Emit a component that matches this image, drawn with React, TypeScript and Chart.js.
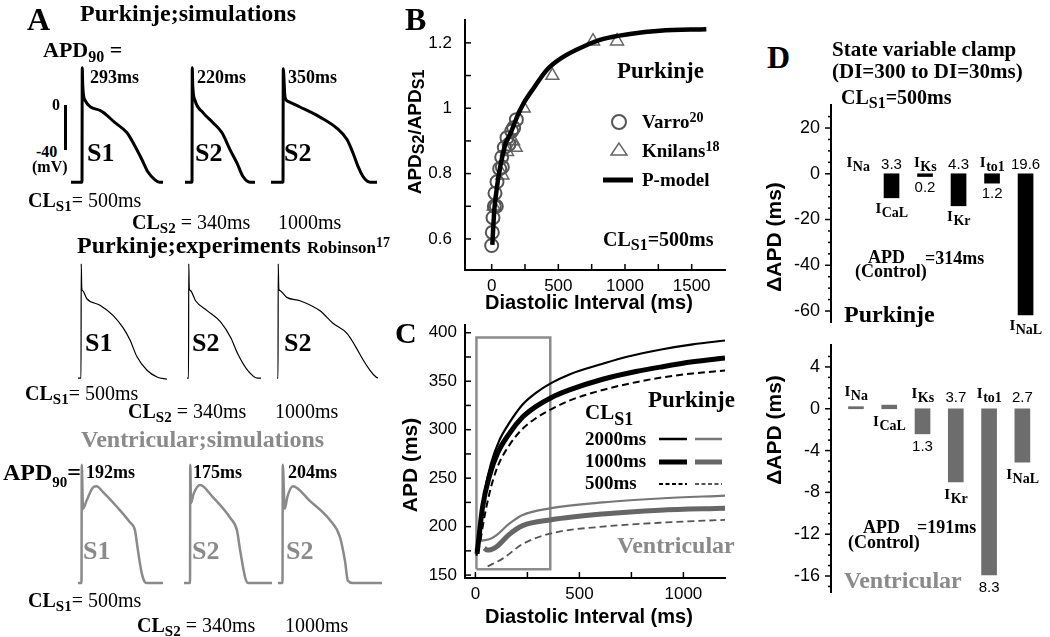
import React, { useEffect, useRef } from "react";
import { Chart, registerables } from "chart.js";

Chart.register(...registerables);

const SERIF = "'Liberation Serif', 'Times New Roman', serif";
const SANS = "'Liberation Sans', Arial, Helvetica, sans-serif";
const GREY = "#8a8a8a";

/* ================= Panel A : action potentials [time ms from upstroke, mV] ================= */
const purkSimS1 = [[-44, -68], [0, -68], [1, 34], [3, 18], [12, 5], [72, -4], [132, -15], [180, -24], [212, -36], [240, -48], [264, -59], [292, -66], [310, -68], [324, -68]];
const purkSimS2a = [[-28, -68], [0, -68], [1, 34], [3, 18], [12, 5], [44, -6], [84, -15], [120, -24], [152, -39], [180, -51], [204, -63], [232, -68], [252, -68]];
const purkSimS2b = [[-48, -68], [0, -68], [1, 33], [8, 8], [20, 4], [68, -1], [148, -10], [216, -20], [256, -30], [280, -42], [300, -54], [320, -63], [336, -67], [350, -68], [376, -68]];
const purkExpS1 = [[-12, -68], [0, -68], [1, 34], [3, 12], [7, 10], [23, 3], [76, -3], [128, -12], [168, -23], [196, -34], [224, -49], [264, -61], [304, -67], [344, -69]];
const purkExpS2a = [[-6, -68], [0, -68], [1, 34], [3, 12], [8, 10], [28, 1], [75, -8], [128, -18], [168, -32], [195, -46], [235, -61], [275, -68], [288, -68]];
const purkExpS2b = [[-4, -68], [0, -68], [1, 34], [3, 12], [8, 10], [35, 4], [88, 1], [168, -8], [220, -19], [276, -28], [308, -39], [336, -50], [368, -61], [392, -67], [400, -68]];
const ventSimS1 = [[-14, -85], [0, -85], [1, 20], [6, -19], [20, -12], [46, 0], [60, 1], [85, -4], [140, -17], [193, -31], [213, -38], [225, -56], [240, -76], [252, -84], [260, -85], [325, -85]];
const ventSimS2a = [[-24, -85], [0, -85], [1, 20], [4, -14], [14, -6], [40, 2], [92, -9], [160, -27], [187, -38], [200, -56], [220, -80], [232, -85], [327, -85]];
const ventSimS2b = [[-18, -85], [0, -85], [1, 20], [9, -19], [20, -8], [41, 1], [109, -12], [189, -29], [229, -44], [249, -65], [261, -83], [281, -85], [397, -85]];

/* ================= Panel B : restitution ratio ================= */
const varroDI = [0, 5, 10, 20, 25, 35, 40, 60, 75, 80, 95, 115, 130, 150, 165, 185];
const varroRatio = [0.58, 0.62, 0.665, 0.7, 0.74, 0.7, 0.775, 0.815, 0.85, 0.82, 0.88, 0.91, 0.89, 0.93, 0.94, 0.965];
const knilansDI = [15, 80, 115, 160, 180, 240, 455, 760, 940];
const knilansRatio = [0.7, 0.795, 0.867, 0.9, 0.88, 1.0, 1.1, 1.205, 1.205];
const pModelDI = [5, 12, 22, 37, 55, 80, 105, 142, 192, 241, 316, 415, 540, 689, 838, 1037, 1261, 1610];
const pModelRatio = [0.582, 0.638, 0.699, 0.75, 0.8, 0.852, 0.893, 0.924, 0.975, 1.016, 1.062, 1.118, 1.158, 1.189, 1.212, 1.227, 1.237, 1.242];
const bTickX = [0, 500, 1000, 1500];
const bMarkX = [0, 250, 500, 750, 1000, 1250, 1500];
const bTickY = [0.6, 0.8, 1, 1.2];
const bMarkY = [0.6, 0.7, 0.8, 0.9, 1, 1.1, 1.2];

/* ================= Panel C : APD restitution ================= */
const p2000DI = [5, 19, 43, 75, 115, 163, 227, 291, 364, 452, 612, 724, 900, 1045, 1200];
const p2000APD = [170, 193, 234, 265, 289, 307, 326, 338, 348, 357, 368, 375, 383, 388, 392];
const p1000DI = [8, 35, 67, 107, 163, 227, 292, 364, 452, 612, 772, 900, 1045, 1200];
const p1000APD = [172, 221, 252, 276, 296, 313, 324, 333, 341, 352, 360, 365, 370, 374];
const p500DI = [25, 35, 67, 107, 163, 227, 292, 364, 452, 612, 772, 900, 1045, 1200];
const p500APD = [186, 200, 234, 262, 284, 301, 312, 321, 330, 341, 349, 354, 358, 361];
const v2000DI = [0, 19, 43, 67, 100, 163, 227, 364, 612, 885, 1200];
const v2000APD = [176, 184, 186, 187, 191, 203, 212, 219, 225, 229, 232];
const v1000DI = [43, 55, 67, 100, 163, 227, 364, 612, 885, 1200];
const v1000APD = [178, 176, 176, 179, 192, 201, 207, 213, 217, 219];
const v500DI = [59, 131, 227, 364, 612, 885, 1200];
const v500APD = [159, 167, 182, 193, 200, 204, 207];
const boxDI = [5, 360, 360, 5, 5];
const boxAPD = [156, 156, 395, 395, 156];
const cTickX = [0, 500, 1000];
const cMarkX = [0, 250, 500, 750, 1000];
const cTickY = [150, 200, 250, 300, 350, 400];
const cMarkY = [150, 175, 200, 225, 250, 275, 300, 325, 350, 375, 400];

/* ================= Panel D : state variable clamp ================= */
const currentNames = ["Na", "CaL", "Ks", "Kr", "to1", "NaL"];
const purkDeltaAPD = [null, -10.5, -1.2, -14, -4.1, -61.7];
const purkPercent = ["", "3.3", "0.2", "4.3", "1.2", "19.6"];
const purkNameSide = ["above", "below", "above", "below", "above", "below"];
const ventDeltaAPD = [0.2, 0.35, -2.4, -7, -15.9, -5.1];
const ventPercent = ["", "", "1.3", "3.7", "8.3", "2.7"];
const ventNameSide = ["above", "below", "above", "below", "above", "below"];
const dTopTicks = [20, 0, -20, -40, -60];
const dTopMinor = [25, 15, 10, 5, -5, -10, -15, -25, -30, -35, -45, -50, -55];
const dBotTicks = [4, 0, -4, -8, -12, -16];
const dBotMinor = [5, 3, 2, 1, -1, -2, -3, -5, -6, -7, -9, -10, -11, -13, -14, -15, -17];

/* ================= helpers ================= */
const KX = 0.25;
const KY = 1.125;
const PAD = 4;

const baseOpts = (padding: any) => ({
  responsive: false,
  animation: false,
  devicePixelRatio: 1,
  events: [],
  layout: { padding },
  plugins: { legend: { display: false }, tooltip: { enabled: false }, title: { display: false } },
});

function xy(xs: number[], ys: number[]) {
  return xs.map((x, i) => ({ x, y: ys[i] }));
}

function linAxis(min: number, max: number, ticks: number[], fit: number, horizontal: boolean, pad: number, size = 17) {
  return {
    type: "linear",
    min,
    max,
    grid: { display: false, drawTicks: false },
    border: { display: true, color: "#000", width: 2 },
    ticks: {
      font: { family: SANS, size },
      color: "#000",
      padding: pad,
      autoSkip: false,
      maxRotation: 0,
      callback: (v: any) => String(v),
    },
    afterBuildTicks: (s: any) => {
      s.ticks = ticks.map((v) => ({ value: v }));
    },
    afterFit: (s: any) => {
      if (horizontal) s.height = fit;
      else s.width = fit;
      s.paddingTop = 0;
      s.paddingBottom = 0;
      s.paddingLeft = 0;
      s.paddingRight = 0;
    },
  };
}

function tickMarks(specs: { axis: string; values: number[]; len: number; dir: number }[]) {
  return {
    id: "tickMarks",
    afterDraw(chart: any) {
      const { ctx, chartArea: a } = chart;
      ctx.save();
      ctx.strokeStyle = "#000";
      ctx.lineWidth = 1.5;
      specs.forEach((sp) => {
        const sc = chart.scales[sp.axis];
        sp.values.forEach((v) => {
          const p = sc.getPixelForValue(v);
          ctx.beginPath();
          if (sp.axis === "x") {
            ctx.moveTo(p, a.bottom);
            ctx.lineTo(p, a.bottom - sp.dir * sp.len);
          } else {
            ctx.moveTo(a.left, p);
            ctx.lineTo(a.left + sp.dir * sp.len, p);
          }
          ctx.stroke();
        });
      });
      ctx.restore();
    },
  };
}

function barLabels(names: string[], vals: string[], sides: string[], o: { nameAbove: number; valAbove: number; below: number }) {
  return {
    id: "barLabels",
    afterDatasetsDraw(chart: any) {
      const ctx = chart.ctx;
      const xs = chart.scales.x;
      const ys = chart.scales.y;
      const data = chart.data.datasets[0].data;
      const y0 = ys.getPixelForValue(0);
      ctx.save();
      ctx.fillStyle = "#000";
      ctx.textBaseline = "alphabetic";
      data.forEach((d: any, i: number) => {
        const xc = xs.getPixelForValue(d.x);
        const yv = ys.getPixelForValue(d.y == null ? 0 : d.y);
        const yTop = Math.min(y0, yv);
        const yBot = Math.max(y0, yv);
        const above = sides[i] === "above";
        ctx.textAlign = "left";
        ctx.font = `bold 15px ${SERIF}`;
        const wI = ctx.measureText("I").width;
        ctx.font = `bold 14px ${SERIF}`;
        const wS = ctx.measureText(names[i]).width;
        const sx = xc - (wI + wS) / 2;
        const nb = above ? yTop - o.nameAbove : yBot + o.below;
        ctx.font = `bold 15px ${SERIF}`;
        ctx.fillText("I", sx, nb);
        ctx.font = `bold 14px ${SERIF}`;
        ctx.fillText(names[i], sx + wI + 0.5, nb + 4);
        if (vals[i]) {
          ctx.font = `15px ${SANS}`;
          ctx.textAlign = "center";
          const vb = above ? yBot + o.below : yTop - o.valAbove;
          ctx.fillText(vals[i], xc, vb);
        }
      });
      ctx.restore();
    },
  };
}

function ChartCanvas({ box, make }: { box: { left: number; top: number; width: number; height: number }; make: () => any }) {
  const ref = useRef<HTMLCanvasElement | null>(null);
  useEffect(() => {
    if (!ref.current) return;
    const chart = new Chart(ref.current, make());
    return () => chart.destroy();
  }, []);
  return (
    <canvas
      ref={ref}
      width={box.width}
      height={box.height}
      style={{ position: "absolute", left: box.left, top: box.top, width: box.width, height: box.height }}
    />
  );
}

/* ---------- trace charts ---------- */
const traceRows = [
  { y0: 106, yMin: -75, yMax: 40, color: "#000", width: 3, traces: [purkSimS1, purkSimS2a, purkSimS2b], xs: [82, 192, 283] },
  { y0: 301.5, yMin: -75, yMax: 40, color: "#000", width: 1.2, traces: [purkExpS1, purkExpS2a, purkExpS2b], xs: [81, 188, 278] },
  { y0: 487, yMin: -92, yMax: 26, color: GREY, width: 2.5, traces: [ventSimS1, ventSimS2a, ventSimS2b], xs: [81.7, 190, 282.7] },
];

function traceBox(pts: number[][], x0: number, y0: number, yMin: number, yMax: number) {
  const tMin = pts[0][0];
  const tMax = pts[pts.length - 1][0];
  return {
    left: Math.round(x0 + tMin * KX) - PAD,
    top: Math.round(y0 - yMax * KY) - PAD,
    width: Math.round((tMax - tMin) * KX) + 2 * PAD,
    height: Math.round((yMax - yMin) * KY) + 2 * PAD,
  };
}

function traceConfig(pts: number[][], color: string, width: number, yMin: number, yMax: number) {
  return () => ({
    type: "line",
    data: {
      datasets: [
        {
          data: pts.map((p) => ({ x: p[0], y: p[1] })),
          borderColor: color,
          borderWidth: width,
          pointRadius: 0,
          cubicInterpolationMode: "monotone",
          fill: false,
          borderJoinStyle: "round",
        },
      ],
    },
    options: {
      ...baseOpts(PAD),
      scales: {
        x: { type: "linear", display: false, min: pts[0][0], max: pts[pts.length - 1][0] },
        y: { type: "linear", display: false, min: yMin, max: yMax },
      },
    },
  });
}

/* ---------- panel B ---------- */
const makeB = () => ({
  type: "scatter",
  data: {
    datasets: [
      {
        data: xy(pModelDI, pModelRatio),
        showLine: true,
        borderColor: "#000",
        borderWidth: 4.5,
        pointRadius: 0,
        cubicInterpolationMode: "monotone",
      },
      {
        data: xy(varroDI, varroRatio),
        pointStyle: "circle",
        pointRadius: 6.5,
        borderColor: "#555",
        borderWidth: 2,
        backgroundColor: "rgba(0,0,0,0)",
      },
      {
        data: xy(knilansDI, knilansRatio),
        pointStyle: "triangle",
        pointRadius: 7.5,
        borderColor: "#666",
        borderWidth: 1.5,
        backgroundColor: "rgba(0,0,0,0)",
      },
    ],
  },
  options: {
    ...baseOpts({ top: 10, right: 15, left: 0, bottom: 0 }),
    scales: {
      x: linAxis(-200, 1750, bTickX, 40, true, 6),
      y: linAxis(0.505, 1.27, bTickY, 65, false, 13),
    },
  },
  plugins: [
    tickMarks([
      { axis: "x", values: bMarkX, len: 6, dir: 1 },
      { axis: "y", values: bMarkY, len: 6, dir: 1 },
    ]),
  ],
});

/* ---------- panel C ---------- */
const cLine = (xs: number[], ys: number[], color: string, width: number, dash: number[] = []) => ({
  data: xy(xs, ys),
  borderColor: color,
  borderWidth: width,
  borderDash: dash,
  pointRadius: 0,
  cubicInterpolationMode: "monotone",
  fill: false,
});

const makeC = () => ({
  type: "line",
  data: {
    datasets: [
      cLine(p2000DI, p2000APD, "#000", 2.2),
      cLine(p1000DI, p1000APD, "#000", 5),
      cLine(p500DI, p500APD, "#000", 2, [7, 4]),
      cLine(v2000DI, v2000APD, "#777", 2.2),
      cLine(v1000DI, v1000APD, "#666", 5),
      cLine(v500DI, v500APD, "#555", 1.8, [7, 4]),
      { data: xy(boxDI, boxAPD), borderColor: "#8c8c8c", borderWidth: 2.5, pointRadius: 0, tension: 0, fill: false },
    ],
  },
  options: {
    ...baseOpts({ top: 10, right: 15, left: 0, bottom: 0 }),
    scales: {
      x: linAxis(-50, 1200, cTickX, 52, true, 6),
      y: linAxis(147, 408, cTickY, 65, false, 8),
    },
  },
  plugins: [
    tickMarks([
      { axis: "x", values: cMarkX, len: 6, dir: 1 },
      { axis: "y", values: cMarkY, len: 6, dir: 1 },
    ]),
  ],
});

/* ---------- panel D ---------- */
const makeD = (
  values: (number | null)[],
  pct: string[],
  sides: string[],
  color: string,
  yMin: number,
  yMax: number,
  ticks: number[],
  minor: number[],
  xMin: number,
  xMax: number,
  padBottom: number,
  off: { nameAbove: number; valAbove: number; below: number }
) => () => ({
  type: "bar",
  data: {
    datasets: [
      {
        data: values.map((v, i) => ({ x: i, y: v })),
        backgroundColor: color,
        borderWidth: 0,
        barThickness: 15,
      },
    ],
  },
  options: {
    ...baseOpts({ top: 10, right: 3, left: 0, bottom: padBottom }),
    scales: {
      x: { type: "linear", display: false, min: xMin, max: xMax, offset: false },
      y: linAxis(yMin, yMax, ticks, 51, false, 11, 18),
    },
  },
  plugins: [
    tickMarks([
      { axis: "y", values: ticks, len: 6, dir: -1 },
      { axis: "y", values: minor, len: 3, dir: -1 },
    ]),
    barLabels(currentNames, pct, sides, off),
  ],
});

/* ---------- text helpers ---------- */
type TP = { x: number; y: number; s?: number; w?: number; c?: string; f?: string; children?: any };
const T = ({ x, y, s = 18, w = 700, c = "#000", f = SERIF, children }: TP) => (
  <div
    style={{
      position: "absolute",
      left: x,
      top: y - Math.round(0.84 * s),
      fontFamily: f,
      fontSize: s,
      fontWeight: w,
      color: c,
      lineHeight: `${s}px`,
      whiteSpace: "nowrap",
    }}
  >
    {children}
  </div>
);
const Sb = ({ s, dy, w = 700, children }: { s: number; dy: number; w?: number; children?: any }) => (
  <span style={{ fontSize: s, fontWeight: w, position: "relative", top: dy }}>{children}</span>
);
const RT = ({ cx, cy, s, children }: { cx: number; cy: number; s: number; children?: any }) => (
  <div
    style={{
      position: "absolute",
      left: cx,
      top: cy,
      transform: "translate(-50%, -50%) rotate(-90deg)",
      fontFamily: SANS,
      fontWeight: 700,
      fontSize: s,
      lineHeight: `${s}px`,
      whiteSpace: "nowrap",
      color: "#000",
    }}
  >
    {children}
  </div>
);
const CL = ({ x, y, sub, rest, restW = 400, s = 20, ss = 15 }: { x: number; y: number; sub: string; rest: string; restW?: number; s?: number; ss?: number }) => (
  <T x={x} y={y} s={s}>
    CL<Sb s={ss} dy={4}>{sub}</Sb>
    <span style={{ fontWeight: restW }}>{rest}</span>
  </T>
);

export default function App() {
  const boxB = { left: 400, top: 10, width: 340, height: 300 };
  const boxC = { left: 400, top: 315, width: 340, height: 315 };
  const boxDT = { left: 780, top: 95, width: 268, height: 250 };
  const boxDB = { left: 780, top: 335, width: 268, height: 265 };
  const makeDTop = makeD(purkDeltaAPD, purkPercent, purkNameSide, "#000", -64.8, 30.07, dTopTicks, dTopMinor, -0.806, 5.58, 23, { nameAbove: 7, valAbove: 5, below: 15 });
  const makeDBot = makeD(ventDeltaAPD, ventPercent, ventNameSide, "#6d6d6d", -17.53, 6.1, dBotTicks, dBotMinor, -0.75, 5.68, 8, { nameAbove: 11, valAbove: 7, below: 17 });

  return (
    <div style={{ position: "absolute", left: 0, top: 0, width: 1050, height: 637, overflow: "hidden", background: "#fff" }}>
      {/* ---------------- Panel A ---------------- */}
      {traceRows.map((row, ri) =>
        row.traces.map((pts, ti) => (
          <ChartCanvas
            key={`tr-${ri}-${ti}`}
            box={traceBox(pts, row.xs[ti], row.y0, row.yMin, row.yMax)}
            make={traceConfig(pts, row.color, row.width, row.yMin, row.yMax)}
          />
        ))
      )}
      <div style={{ position: "absolute", left: 64, top: 105, width: 3, height: 45, background: "#000" }} />
      <T x={27} y={30} s={32}>A</T>
      <T x={80} y={21} s={24}>Purkinje;simulations</T>
      <T x={43} y={57} s={22}>
        APD<Sb s={16} dy={5}>90</Sb> =
      </T>
      <T x={90} y={83} s={18}>293ms</T>
      <T x={197} y={83} s={18}>220ms</T>
      <T x={288} y={83} s={18}>350ms</T>
      <T x={52} y={110} s={16}>0</T>
      <T x={36} y={157} s={16}>-40</T>
      <T x={32} y={172} s={16}>(mV)</T>
      <T x={87} y={162} s={26}>S1</T>
      <T x={195} y={162} s={26}>S2</T>
      <T x={284} y={162} s={26}>S2</T>
      <CL x={28} y={207} sub="S1" rest="= 500ms" />
      <CL x={132} y={229} sub="S2" rest=" = 340ms" />
      <T x={278} y={229} s={20} w={400}>1000ms</T>

      <T x={77} y={253} s={24}>Purkinje;experiments</T>
      <T x={307} y={253} s={17}>
        Robinson<Sb s={14} dy={-6}>17</Sb>
      </T>
      <T x={85} y={352} s={26}>S1</T>
      <T x={192} y={352} s={26}>S2</T>
      <T x={284} y={352} s={26}>S2</T>
      <CL x={25} y={400} sub="S1" rest="= 500ms" />
      <CL x={128} y={418} sub="S2" rest=" = 340ms" />
      <T x={275} y={418} s={20} w={400}>1000ms</T>

      <T x={81} y={447} s={24} c={GREY}>Ventricular;simulations</T>
      <T x={3} y={480} s={24}>
        APD<Sb s={15} dy={7}>90</Sb>=
      </T>
      <T x={86} y={478} s={18}>192ms</T>
      <T x={193} y={478} s={18}>175ms</T>
      <T x={288} y={478} s={18}>204ms</T>
      <T x={83} y={560} s={26} c={GREY}>S1</T>
      <T x={192} y={560} s={26} c={GREY}>S2</T>
      <T x={286} y={560} s={26} c={GREY}>S2</T>
      <CL x={28} y={607} sub="S1" rest="= 500ms" />
      <CL x={137} y={632} sub="S2" rest=" = 340ms" />
      <T x={285} y={632} s={20} w={400}>1000ms</T>

      {/* ---------------- Panel B ---------------- */}
      <ChartCanvas box={boxB} make={makeB} />
      <T x={405} y={30} s={32}>B</T>
      <RT cx={415} cy={132} s={19}>
        APD<Sb s={16} dy={3}>S2</Sb>/APD<Sb s={16} dy={3}>S1</Sb>
      </RT>
      <T x={485} y={309} s={20} f={SANS}>Diastolic Interval (ms)</T>
      <T x={617} y={78} s={23}>Purkinje</T>
      <T x={642} y={128} s={19}>
        Varro<Sb s={14} dy={-6}>20</Sb>
      </T>
      <T x={642} y={157} s={19}>
        Knilans<Sb s={14} dy={-6}>18</Sb>
      </T>
      <T x={642} y={186} s={19}>P-model</T>
      <CL x={603} y={246} sub="S1" rest="=500ms" restW={700} s={20} ss={16} />

      {/* ---------------- Panel C ---------------- */}
      <ChartCanvas box={boxC} make={makeC} />
      <T x={395} y={343} s={30}>C</T>
      <RT cx={409} cy={465} s={21}>APD (ms)</RT>
      <T x={485} y={623} s={20} f={SANS}>Diastolic Interval (ms)</T>
      <T x={648} y={407} s={23}>Purkinje</T>
      <T x={585} y={420} s={21}>
        CL<Sb s={18} dy={6}>S1</Sb>
      </T>
      <T x={585} y={445} s={19}>2000ms</T>
      <T x={585} y={467} s={19}>1000ms</T>
      <T x={585} y={489} s={19}>500ms</T>
      <T x={617} y={553} s={24} c={GREY}>Ventricular</T>

      {/* ---------------- Panel D ---------------- */}
      <ChartCanvas box={boxDB} make={makeDBot} />
      <ChartCanvas box={boxDT} make={makeDTop} />
      <T x={767} y={68} s={32}>D</T>
      <T x={832} y={57} s={21}>State variable clamp</T>
      <T x={832} y={79} s={21}>(DI=300 to DI=30ms)</T>
      <CL x={841} y={104} sub="S1" rest="=500ms" restW={700} s={20} ss={16} />
      <RT cx={773} cy={237} s={21}>ΔAPD (ms)</RT>
      <RT cx={773} cy={430} s={21}>ΔAPD (ms)</RT>
      <T x={868} y={263} s={18}>APD</T>
      <T x={855} y={277} s={18}>(Control)</T>
      <T x={925} y={264} s={18}>=314ms</T>
      <T x={844} y={322} s={24}>Purkinje</T>
      <T x={863} y={533} s={18}>APD</T>
      <T x={848} y={548} s={18}>(Control)</T>
      <T x={917} y={533} s={18}>=191ms</T>
      <T x={844} y={588} s={24} c={GREY}>Ventricular</T>

      {/* legend marks (B and C) */}
      <svg width={1050} height={637} style={{ position: "absolute", left: 0, top: 0, pointerEvents: "none" }}>
        <circle cx={619} cy={122} r={7} fill="none" stroke="#555" strokeWidth={2} />
        <polygon points="619,143 611,155 627,155" fill="none" stroke="#666" strokeWidth={1.5} />
        <line x1={603} y1={180} x2={633} y2={180} stroke="#000" strokeWidth={5} />
        <line x1={659} y1={439} x2={687} y2={439} stroke="#000" strokeWidth={2.5} />
        <line x1={695} y1={439} x2={722} y2={439} stroke="#777" strokeWidth={2.5} />
        <line x1={659} y1={462} x2={687} y2={462} stroke="#000" strokeWidth={5} />
        <line x1={695} y1={462} x2={722} y2={462} stroke="#666" strokeWidth={5} />
        <line x1={659} y1={484} x2={687} y2={484} stroke="#000" strokeWidth={2} strokeDasharray="4 2.5" />
        <line x1={695} y1={484} x2={722} y2={484} stroke="#555" strokeWidth={1.8} strokeDasharray="4 2.5" />
      </svg>
    </div>
  );
}
